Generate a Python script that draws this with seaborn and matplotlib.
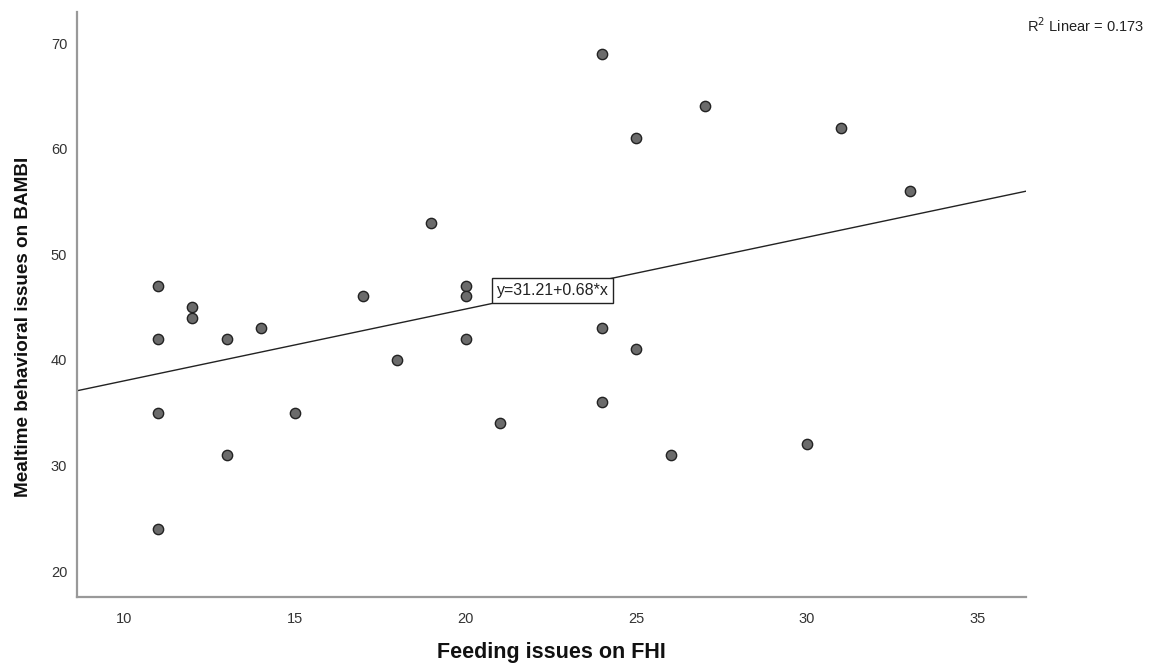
import matplotlib
matplotlib.use("Agg")
import matplotlib.pyplot as plt
import seaborn as sns
import numpy as np
import pandas as pd

# Data
fhi = [11, 11, 11, 11, 12, 12, 13, 13, 14, 15, 17, 18, 19, 20, 20, 20, 21,
       24, 24, 24, 25, 25, 26, 27, 30, 31, 33]
bambi = [47, 42, 35, 24, 45, 44, 42, 31, 43, 35, 46, 40, 53, 47, 46, 42, 34,
         69, 43, 36, 61, 41, 31, 64, 32, 62, 56]
intercept = 31.21
slope = 0.68
r2 = 0.173
x_ticks = [10, 15, 20, 25, 30, 35]
y_ticks = [20, 30, 40, 50, 60, 70]

sns.set_theme(style="white")
plt.rcParams['font.family'] = ['Liberation Sans', 'DejaVu Sans']

fig = plt.figure(figsize=(11.55, 6.66), dpi=100)
ax = fig.add_axes([0.0667, 0.1036, 0.8216, 0.8784])

df = pd.DataFrame({"x": fhi, "y": bambi})
xlim = (8.62, 36.41)
ylim = (17.54, 72.94)

fit = pd.DataFrame({"x": list(xlim)})
fit["y"] = intercept + slope * fit["x"]
sns.lineplot(data=fit, x="x", y="y", ax=ax, color="#222222", lw=1.0, zorder=2)

sns.scatterplot(data=df, x="x", y="y", ax=ax, s=55, color="#6b6b6b",
                edgecolor="#222222", linewidth=1.0, zorder=3)

ax.set_xlim(*xlim)
ax.set_ylim(*ylim)
ax.set_xticks(x_ticks)
ax.set_yticks(y_ticks)
ax.tick_params(axis="both", length=0, labelsize=10.5, labelcolor="#333333")
ax.tick_params(axis="x", pad=11)
ax.tick_params(axis="y", pad=7)

for s in ["top", "right"]:
    ax.spines[s].set_visible(False)
for s in ["left", "bottom"]:
    ax.spines[s].set_color("#999999")
    ax.spines[s].set_linewidth(1.6)

ax.set_xlabel("Feeding issues on FHI", fontsize=15.5, fontweight="bold",
              color="#111111")
ax.xaxis.set_label_coords(0.5, -0.077)
ax.set_ylabel("Mealtime behavioral issues on BAMBI", fontsize=13.6,
              fontweight="bold", color="#111111")
ax.yaxis.set_label_coords(-0.047, 0.462)

# equation label box on the line
bx = 22.55
ax.text(bx, intercept + slope * bx, f"y={intercept:.2f}+{slope:.2f}*x",
        ha="center", va="center", fontsize=11.5, color="#222222", zorder=4,
        bbox=dict(boxstyle="square,pad=0.3", fc="white", ec="#222222", lw=1.0))

fig.text(0.889, 0.962, f"R$^2$ Linear = {r2:.3f}", ha="left", va="center",
         fontsize=10.5, color="#222222")

fig.savefig("out.png", dpi=100)
